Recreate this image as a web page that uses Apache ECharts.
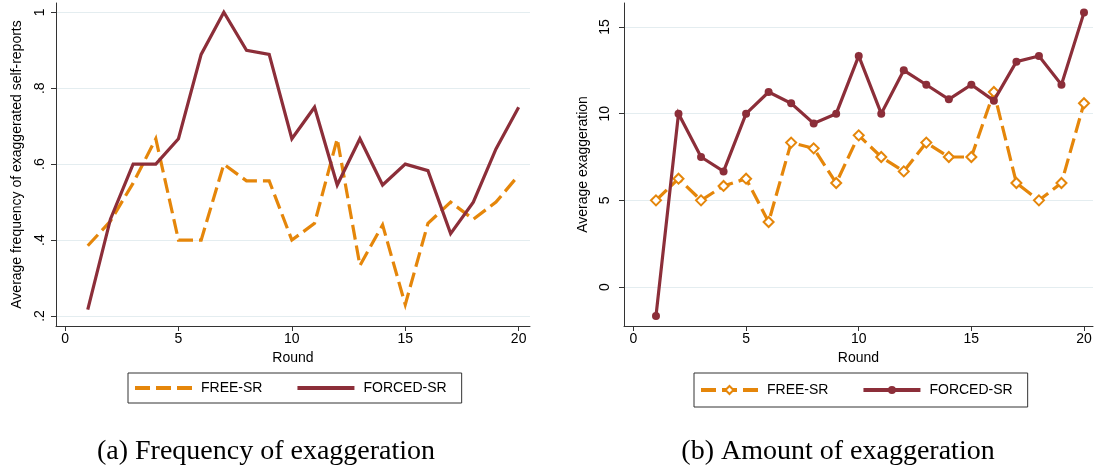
<!DOCTYPE html>
<html>
<head>
<meta charset="utf-8">
<script src="https://cdn.jsdelivr.net/npm/echarts@6/dist/echarts.min.js"></script>
<style>
  html, body { margin: 0; padding: 0; background: #fff; width: 1097px; height: 474px; overflow: hidden; }
  #freq { position: absolute; left: 0; top: 0; width: 560px; height: 474px; }
  #amount { position: absolute; left: 560px; top: 0; width: 537px; height: 474px; }
</style>
</head>
<body>
<div id="freq"></div>
<div id="amount"></div>
<script>
// Rounds of the experiment
const rounds = [1, 2, 3, 4, 5, 6, 7, 8, 9, 10, 11, 12, 13, 14, 15, 16, 17, 18, 19, 20];

// (a) Average frequency of exaggerated self-reports
const freqFree   = [0.385, 0.45, 0.55, 0.667, 0.4, 0.4, 0.6, 0.556, 0.556, 0.4,
                    0.444, 0.667, 0.333, 0.44, 0.23, 0.444, 0.5, 0.455, 0.5, 0.571];
const freqForced = [0.217, 0.455, 0.6, 0.6, 0.667, 0.889, 1.0, 0.9, 0.889, 0.667,
                    0.75, 0.545, 0.667, 0.545, 0.6, 0.583, 0.417, 0.5, 0.64, 0.75];

// (b) Average exaggeration
const amtFree   = [5, 6.25, 5, 5.83, 6.25, 3.75, 8.33, 8.0, 6.0, 8.75,
                   7.5, 6.67, 8.33, 7.5, 7.5, 11.25, 6.0, 5.0, 6.0, 10.6];
const amtForced = [-1.67, 10, 7.5, 6.67, 10, 11.25, 10.6, 9.44, 10, 13.33,
                   10, 12.5, 11.67, 10.83, 11.67, 10.75, 13.0, 13.33, 11.67, 15.83];

// Axis ticks
const roundTicks = [0, 5, 10, 15, 20];
const freqTicks  = [0.2, 0.4, 0.6, 0.8, 1];
const amtTicks   = [0, 5, 10, 15];

const seriesNames = ['FREE-SR', 'FORCED-SR'];
const captions = ['(a) Frequency of exaggeration', '(b) Amount of exaggeration'];

const ORANGE = '#E5860A';
const MAROON = '#8C2E39';
const GRID = '#E4EDF0';
const AXIS = '#333333';
const FONT = '"Liberation Sans", Arial, sans-serif';
const SERIF = '"Liberation Serif", "Times New Roman", serif';
const DASH = [15, 6];

const pairs = (ys) => rounds.map((r, i) => [r, ys[i]]);

function fmtFreq(v) {
  const s = (Math.round(v * 10) / 10).toString();
  return s.replace(/^0\./, '.');
}

function xAxisCfg(min, max) {
  return {
    type: 'value', min: min, max: max,
    name: 'Round', nameLocation: 'middle', nameGap: 24,
    nameTextStyle: { fontSize: 14, color: '#000', fontFamily: FONT },
    axisLine: { show: true, onZero: false, lineStyle: { color: AXIS, width: 1 } },
    axisTick: { show: true, length: 5, lineStyle: { color: AXIS }, customValues: roundTicks },
    axisLabel: { customValues: roundTicks, fontSize: 14, color: '#000', margin: 6, fontFamily: FONT },
    splitLine: { show: false }
  };
}

function yAxisCfg(min, max, ticks, name, nameGap, labelMargin, fmt) {
  return {
    type: 'value', min: min, max: max,
    name: name, nameLocation: 'middle', nameGap: nameGap, nameRotate: 90,
    nameTextStyle: { fontSize: 14, color: '#000', fontFamily: FONT },
    axisLine: { show: true, onZero: false, lineStyle: { color: AXIS, width: 1 } },
    axisTick: { show: true, length: 5, lineStyle: { color: AXIS }, customValues: ticks },
    axisLabel: { customValues: ticks, rotate: 90, fontSize: 14, color: '#000',
                 margin: labelMargin, fontFamily: FONT, formatter: fmt },
    splitLine: { show: false }
  };
}

// Horizontal grid lines at the y ticks, placed through the y scale
function gridSeries(ticks) {
  return {
    name: 'gridlines', type: 'line', data: [], silent: true, z: 0,
    markLine: {
      silent: true, symbol: ['none', 'none'], z: 0, animation: false,
      label: { show: false },
      lineStyle: { color: GRID, width: 1, type: 'solid' },
      emphasis: { disabled: true },
      data: ticks.map(t => ({ yAxis: t }))
    }
  };
}

function legendCfg(left, itemHeight, hideSymbol) {
  const cfg = {
    left: left, top: 373, orient: 'horizontal',
    data: [
      { name: seriesNames[0], lineStyle: { width: 4, type: DASH, cap: 'butt' } },
      { name: seriesNames[1], lineStyle: { width: 4, type: 'solid' } }
    ],
    itemWidth: 57, itemHeight: itemHeight, itemGap: 33,
    padding: [(30 - itemHeight) / 2, 15, (30 - itemHeight) / 2, 5],
    borderColor: AXIS, borderWidth: 1,
    selectedMode: false,
    textStyle: { fontSize: 14, color: '#000', fontFamily: FONT, padding: [0, 0, 0, 4] }
  };
  if (hideSymbol) cfg.itemStyle = { opacity: 0 };
  return cfg;
}

function captionCfg(text, cx) {
  return {
    type: 'text', x: cx, y: 452,
    style: { text: text, fill: '#000', font: '28px ' + SERIF, textAlign: 'center', textVerticalAlign: 'middle' }
  };
}

// Panel (a): frequency
const chartA = echarts.init(document.getElementById('freq'), null, { renderer: 'canvas' });
chartA.setOption({
  animation: false,
  backgroundColor: '#fff',
  grid: { left: 56, top: 3, width: 474, height: 323, containLabel: false },
  xAxis: xAxisCfg(-0.4, 20.5),
  yAxis: yAxisCfg(0.1737, 1.0245, freqTicks, 'Average frequency of exaggerated self-reports', 32, 9, fmtFreq),
  legend: legendCfg(128, 14, true),
  graphic: [captionCfg(captions[0], 266)],
  series: [
    gridSeries(freqTicks),
    {
      name: seriesNames[0], type: 'line', data: pairs(freqFree), z: 3,
      symbol: 'none', showSymbol: false,
      lineStyle: { color: ORANGE, width: 3.2, type: DASH, cap: 'butt', join: 'miter' },
      itemStyle: { color: ORANGE }
    },
    {
      name: seriesNames[1], type: 'line', data: pairs(freqForced), z: 4,
      symbol: 'none', showSymbol: false,
      lineStyle: { color: MAROON, width: 3.2, type: 'solid', join: 'miter' },
      itemStyle: { color: MAROON }
    }
  ]
});

// Panel (b): amount
const chartB = echarts.init(document.getElementById('amount'), null, { renderer: 'canvas' });
chartB.setOption({
  animation: false,
  backgroundColor: '#fff',
  grid: { left: 64, top: 3, width: 469, height: 323, containLabel: false },
  xAxis: xAxisCfg(-0.42, 20.4),
  yAxis: yAxisCfg(-2.25, 16.385, amtTicks, 'Average exaggeration', 29, 12, v => String(v)),
  legend: legendCfg(134, 10, false),
  graphic: [captionCfg(captions[1], 278)],
  series: [
    gridSeries(amtTicks),
    {
      name: seriesNames[0], type: 'line', data: pairs(amtFree), z: 3,
      symbol: 'emptyDiamond', symbolSize: 10, showSymbol: true,
      lineStyle: { color: ORANGE, width: 3.2, type: DASH, cap: 'butt', join: 'miter' },
      itemStyle: { color: ORANGE, borderColor: ORANGE, borderWidth: 1.3 }
    },
    {
      name: seriesNames[1], type: 'line', data: pairs(amtForced), z: 4,
      symbol: 'circle', symbolSize: 8, showSymbol: true,
      lineStyle: { color: MAROON, width: 3.2, type: 'solid', join: 'miter' },
      itemStyle: { color: MAROON }
    }
  ]
});
</script>
</body>
</html>
